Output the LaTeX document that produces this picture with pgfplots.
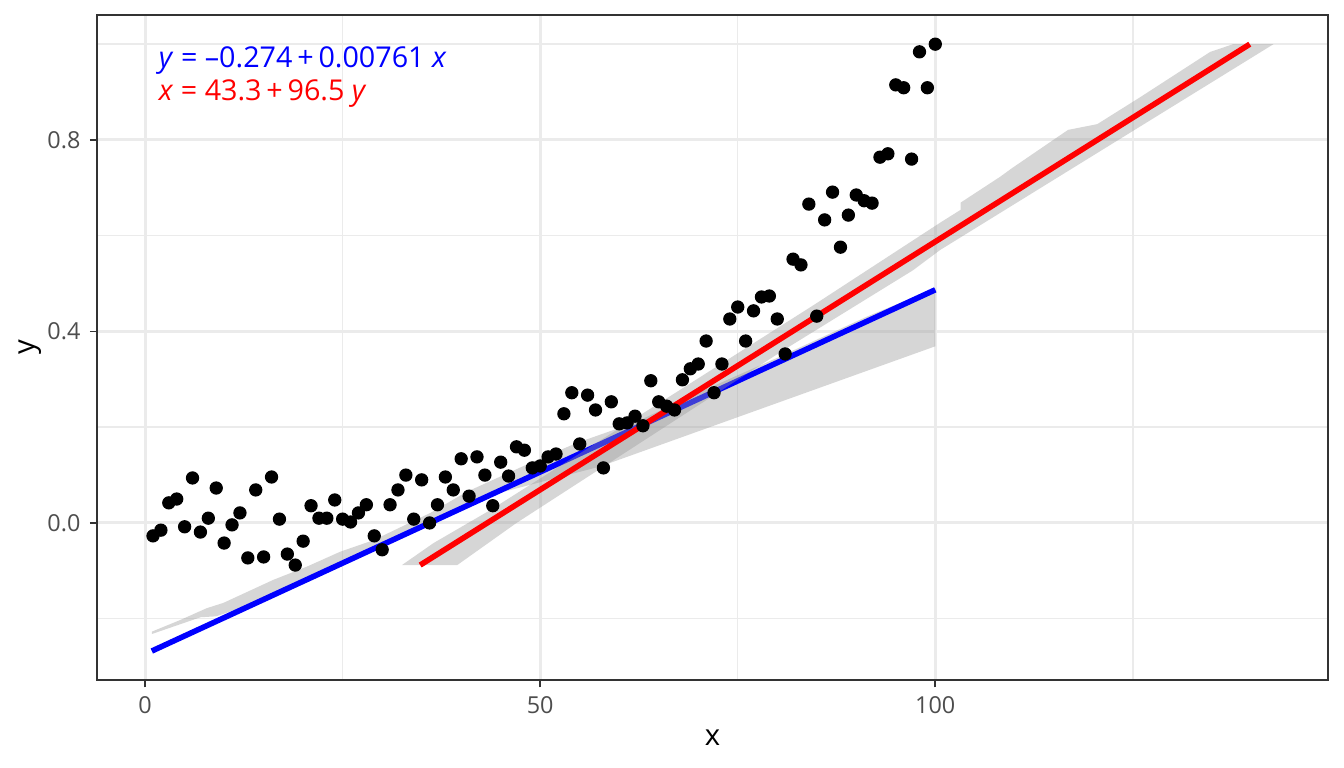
\documentclass[border=0pt]{standalone}
\usepackage{pgfplots}
\pgfplotsset{compat=1.18}
\usepackage{fontspec}
\setmainfont{Open Sans}
\definecolor{gridc}{HTML}{EBEBEB}
\definecolor{tickc}{HTML}{4D4D4D}
\definecolor{bordc}{HTML}{333333}
\definecolor{bandc}{HTML}{999999}
\pgfplotstableread{
x y
1 -0.027
2 -0.015
3 0.042
4 0.050
5 -0.008
6 0.094
7 -0.019
8 0.010
9 0.073
10 -0.042
11 -0.004
12 0.021
13 -0.073
14 0.069
15 -0.071
16 0.096
17 0.008
18 -0.065
19 -0.088
20 -0.038
21 0.036
22 0.010
23 0.010
24 0.048
25 0.008
26 0.002
27 0.021
28 0.038
29 -0.027
30 -0.056
31 0.038
32 0.069
33 0.100
34 0.008
35 0.090
36 0.000
37 0.038
38 0.096
39 0.069
40 0.134
41 0.056
42 0.138
43 0.100
44 0.036
45 0.127
46 0.098
47 0.159
48 0.152
49 0.115
50 0.119
51 0.138
52 0.144
53 0.228
54 0.272
55 0.165
56 0.267
57 0.236
58 0.115
59 0.253
60 0.207
61 0.209
62 0.223
63 0.203
64 0.297
65 0.253
66 0.244
67 0.236
68 0.299
69 0.322
70 0.332
71 0.380
72 0.272
73 0.332
74 0.426
75 0.451
76 0.380
77 0.443
78 0.472
79 0.474
80 0.426
81 0.353
82 0.551
83 0.539
84 0.666
85 0.432
86 0.633
87 0.691
88 0.576
89 0.643
90 0.685
91 0.673
92 0.668
93 0.764
94 0.771
95 0.915
96 0.909
97 0.760
98 0.984
99 0.909
100 1.000
}\pts
\begin{document}
\begin{tikzpicture}
\begin{axis}[
 scale only axis, width=461.6bp, height=249.4bp,
 xmin=-6.08, xmax=149.7, ymin=-0.328, ymax=1.0611,
 axis line style={bordc, line width=0.6pt},
 xtick={0,50,100}, ytick={0,0.4,0.8},
 xticklabels={0,50,100}, yticklabels={0.0,0.4,0.8},
 minor xtick={25,75,125}, minor ytick={-0.2,0.2,0.6,1.0},
 grid=both,
 major grid style={gridc, line width=1.1pt},
 minor grid style={gridc, line width=0.55pt},
 tick align=outside, tick pos=left,
 major tick length=2.75pt, minor tick length=0pt,
 tick style={bordc, line width=0.6pt},
 ticklabel style={font=\fontsize{8.8}{10}\selectfont, text=tickc},
 xlabel={x}, ylabel={y},
 label style={font=\fontsize{11}{13}\selectfont},
 xlabel style={at={(axis description cs:0.5,-0.0872)}, anchor=center},
 ylabel style={at={(axis description cs:-0.0544,0.5)}, anchor=center},
 axis on top=false,
]
\addplot[only marks, mark=*, mark size=2.3pt, black] table[x=x,y=y] {\pts};
% blue band
\addplot[draw=none, fill=bandc, fill opacity=0.4] coordinates {
(0.85,-0.227) (4.4,-0.203) (7.8,-0.178) (9.9,-0.167) (16.2,-0.119) (20.5,-0.091)
(24.7,-0.060) (28.9,-0.036) (36.1,0.021) (40.7,0.065) (48.7,0.125) (54.6,0.167)
(62,0.21) (70,0.272) (80,0.345) (91.35,0.431) (100,0.49)
(100,0.369) (57.6,0.118) (45,0.0635) (20,-0.128) (14,-0.167) (9,-0.195) (7,-0.197) (0.85,-0.232)
};
\addplot[blue, line width=2.1pt] coordinates {(0.85,-0.2675) (100,0.487)};
% red band
\addplot[draw=none, fill=bandc, fill opacity=0.4] coordinates {
(32.5,-0.088) (36.5,-0.042) (43.7,0.027) (67.7,0.278) (84.6,0.455) (100.6,0.627)
(103.2,0.654) (103.2,0.669) (108.2,0.723) (109.7,0.741) (116.8,0.821) (120.5,0.833)
(126,0.89) (134.8,0.984) (137.7,1.0)
(142.8,1.0) (100.6,0.570) (97.2,0.528) (80.8,0.361) (47,0.0) (39.5,-0.088)
};
\addplot[red, line width=2.1pt] coordinates {(34.81,-0.088) (139.8,1.0)};
\node[anchor=base west, inner sep=0pt, text=blue, font=\fontsize{10.8}{13}\selectfont] at (axis cs:1.69,0.952) {\textit{y} = –0.274\,+\,0.00761 \textit{x}};
\node[anchor=base west, inner sep=0pt, text=red, font=\fontsize{10.8}{13}\selectfont] at (axis cs:1.69,0.882) {\textit{x} = 43.3\,+\,96.5 \textit{y}};
\end{axis}
\pgfresetboundingbox
\path[use as bounding box] ([shift={(-36.4bp,-33bp)}]current axis.south west) rectangle ([shift={(6bp,5.6bp)}]current axis.north east);
\end{tikzpicture}
\end{document}
